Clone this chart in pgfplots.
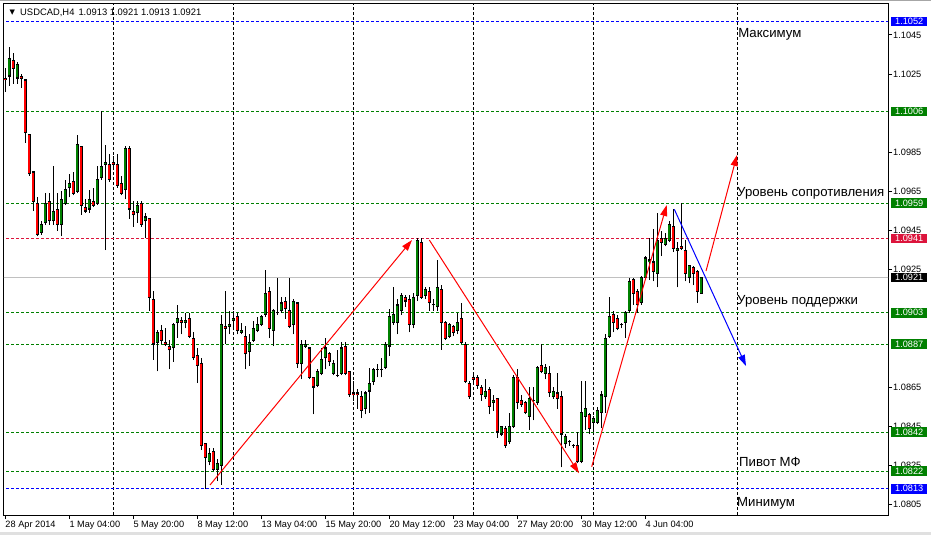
\documentclass[border=0pt]{standalone}
\usepackage{fontspec}
\setmainfont{Liberation Sans}
\newfontfamily\dejavu{DejaVu Sans}
\usepackage{pgfplots}
\usepackage{pgfplotstable}
\pgfplotsset{compat=1.18}
\usetikzlibrary{arrows.meta}

\definecolor{mtgreen}{RGB}{0,128,0}
\definecolor{mtred}{RGB}{255,0,0}
\definecolor{mtcrimson}{RGB}{220,20,60}
\definecolor{mtblue}{RGB}{0,0,255}
\definecolor{mtsilver}{RGB}{192,192,192}

\pgfplotstableread{
i o h l c
0 1.1023 1.1028 1.1016 1.1022
1 1.1024 1.1039 1.1019 1.1033
2 1.1032 1.1036 1.1020 1.1028
3 1.1023 1.1031 1.1020 1.1030
4 1.1024 1.1025 1.1018 1.1023
5 1.1022 1.1022 1.0990 1.0995
6 1.0994 1.0994 1.0973 1.0974
7 1.0975 1.0975 1.0955 1.0960
8 1.0959 1.0962 1.0942 1.0943
9 1.0944 1.0950 1.0943 1.0948
10 1.0949 1.0964 1.0948 1.0959
11 1.0960 1.0964 1.0948 1.0950
12 1.0950 1.0978 1.0948 1.0955
13 1.0956 1.0964 1.0945 1.0948
14 1.0948 1.0965 1.0942 1.0961
15 1.0959 1.0971 1.0958 1.0966
16 1.0967 1.0974 1.0962 1.0969
17 1.0970 1.0975 1.0963 1.0964
18 1.0965 1.0994 1.0964 1.0989
19 1.0988 1.0988 1.0953 1.0958
20 1.0957 1.0961 1.0954 1.0955
21 1.0956 1.0966 1.0954 1.0961
22 1.0960 1.0967 1.0957 1.0958
23 1.0959 1.0978 1.0958 1.0971
24 1.0972 1.1006 1.0971 1.0978
25 1.0979 1.0989 1.0935 1.0980
26 1.0979 1.0984 1.0970 1.0971
27 1.0980 1.0983 1.0976 1.0979
28 1.0979 1.0984 1.0967 1.0968
29 1.0969 1.0973 1.0963 1.0964
30 1.0966 1.0988 1.0961 1.0987
31 1.0987 1.0988 1.0951 1.0956
32 1.0955 1.0960 1.0947 1.0953
33 1.0954 1.0960 1.0949 1.0958
34 1.0959 1.0960 1.0947 1.0948
35 1.0950 1.0954 1.0941 1.0952
36 1.0951 1.0951 1.0904 1.0911
37 1.0910 1.0914 1.0879 1.0887
38 1.0888 1.0894 1.0873 1.0893
39 1.0894 1.0897 1.0887 1.0889
40 1.0888 1.0895 1.0886 1.0887
41 1.0886 1.0889 1.0874 1.0884
42 1.0885 1.0898 1.0878 1.0897
43 1.0898 1.0907 1.0890 1.0900
44 1.0899 1.0901 1.0892 1.0898
45 1.0898 1.0903 1.0895 1.0899
46 1.0900 1.0903 1.0890 1.0891
47 1.0890 1.0893 1.0879 1.0880
48 1.0881 1.0885 1.0867 1.0876
49 1.0877 1.0880 1.0833 1.0835
50 1.0836 1.0836 1.0813 1.0829
51 1.0827 1.0834 1.0825 1.0831
52 1.0832 1.0834 1.0822 1.0823
53 1.0823 1.0828 1.0817 1.0826
54 1.0825 1.0902 1.0815 1.0897
55 1.0896 1.0914 1.0887 1.0895
56 1.0896 1.0904 1.0892 1.0897
57 1.0899 1.0904 1.0894 1.0900
58 1.0901 1.0903 1.0892 1.0894
59 1.0893 1.0898 1.0892 1.0894
60 1.0891 1.0896 1.0874 1.0882
61 1.0883 1.0892 1.0876 1.0888
62 1.0889 1.0899 1.0888 1.0895
63 1.0894 1.0901 1.0893 1.0897
64 1.0897 1.0902 1.0896 1.0901
65 1.0902 1.0925 1.0901 1.0913
66 1.0914 1.0916 1.0890 1.0895
67 1.0894 1.0905 1.0886 1.0904
68 1.0903 1.0921 1.0902 1.0903
69 1.0904 1.0911 1.0903 1.0908
70 1.0909 1.0911 1.0900 1.0905
71 1.0904 1.0921 1.0895 1.0896
72 1.0897 1.0910 1.0892 1.0909
73 1.0908 1.0908 1.0875 1.0877
74 1.0877 1.0889 1.0869 1.0887
75 1.0886 1.0889 1.0885 1.0887
76 1.0885 1.0885 1.0869 1.0870
77 1.0870 1.0870 1.0851 1.0865
78 1.0866 1.0874 1.0865 1.0873
79 1.0872 1.0885 1.0871 1.0879
80 1.0880 1.0890 1.0874 1.0885
81 1.0882 1.0883 1.0876 1.0878
82 1.0872 1.0879 1.0871 1.0877
83 1.0871 1.0884 1.0870 1.0871
84 1.0872 1.0888 1.0871 1.0885
85 1.0886 1.0888 1.0871 1.0872
86 1.0873 1.0873 1.0860 1.0861
87 1.0862 1.0868 1.0858 1.0861
88 1.0862 1.0864 1.0854 1.0861
89 1.0860 1.0863 1.0849 1.0853
90 1.0854 1.0863 1.0851 1.0862
91 1.0863 1.0875 1.0852 1.0867
92 1.0868 1.0875 1.0866 1.0874
93 1.0874 1.0877 1.0870 1.0874
94 1.0874 1.0880 1.0870 1.0874
95 1.0875 1.0888 1.0874 1.0887
96 1.0886 1.0905 1.0881 1.0901
97 1.0898 1.0916 1.0897 1.0902
98 1.0898 1.0910 1.0892 1.0907
99 1.0904 1.0913 1.0902 1.0912
100 1.0911 1.0912 1.0906 1.0909
101 1.0910 1.0912 1.0893 1.0897
102 1.0897 1.0913 1.0895 1.0911
103 1.0912 1.0941 1.0909 1.0940
104 1.0939 1.0941 1.0910 1.0911
105 1.0912 1.0916 1.0910 1.0915
106 1.0914 1.0916 1.0904 1.0908
107 1.0907 1.0910 1.0904 1.0907
108 1.0906 1.0930 1.0904 1.0916
109 1.0915 1.0917 1.0884 1.0898
110 1.0898 1.0899 1.0889 1.0890
111 1.0891 1.0898 1.0890 1.0897
112 1.0896 1.0897 1.0891 1.0893
113 1.0894 1.0903 1.0892 1.0898
114 1.0900 1.0908 1.0887 1.0888
115 1.0887 1.0888 1.0867 1.0868
116 1.0867 1.0868 1.0859 1.0860
117 1.0870 1.0872 1.0866 1.0869
118 1.0870 1.0871 1.0864 1.0866
119 1.0865 1.0866 1.0858 1.0861
120 1.0860 1.0869 1.0859 1.0863
121 1.0864 1.0865 1.0851 1.0855
122 1.0857 1.0861 1.0853 1.0858
123 1.0859 1.0859 1.0839 1.0842
124 1.0841 1.0845 1.0840 1.0845
125 1.0844 1.0845 1.0834 1.0835
126 1.0837 1.0852 1.0836 1.0845
127 1.0845 1.0871 1.0844 1.0870
128 1.0870 1.0874 1.0854 1.0857
129 1.0858 1.0861 1.0855 1.0856
130 1.0857 1.0858 1.0851 1.0852
131 1.0850 1.0865 1.0843 1.0859
132 1.0858 1.0865 1.0848 1.0858
133 1.0857 1.0876 1.0856 1.0875
134 1.0876 1.0887 1.0872 1.0873
135 1.0872 1.0877 1.0869 1.0875
136 1.0872 1.0876 1.0860 1.0862
137 1.0860 1.0865 1.0859 1.0863
138 1.0862 1.0872 1.0854 1.0859
139 1.0860 1.0863 1.0824 1.0841
140 1.0836 1.0841 1.0834 1.0840
141 1.0837 1.0838 1.0835 1.0837
142 1.0835 1.0836 1.0834 1.0835
143 1.0835 1.0842 1.0826 1.0827
144 1.0827 1.0868 1.0826 1.0852
145 1.0850 1.0868 1.0843 1.0854
146 1.0851 1.0852 1.0841 1.0844
147 1.0847 1.0850 1.0842 1.0849
148 1.0847 1.0855 1.0846 1.0853
149 1.0852 1.0863 1.0844 1.0861
150 1.0860 1.0892 1.0852 1.0890
151 1.0891 1.0911 1.0890 1.0901
152 1.0902 1.0904 1.0893 1.0898
153 1.0900 1.0902 1.0894 1.0895
154 1.0897 1.0898 1.0895 1.0897
155 1.0898 1.0904 1.0890 1.0903
156 1.0904 1.0921 1.0903 1.0919
157 1.0920 1.0921 1.0907 1.0913
158 1.0914 1.0915 1.0903 1.0907
159 1.0908 1.0922 1.0907 1.0921
160 1.0921 1.0932 1.0920 1.0931
161 1.0929 1.0941 1.0920 1.0930
162 1.0929 1.0946 1.0919 1.0924
163 1.0923 1.0954 1.0916 1.0940
164 1.0941 1.0945 1.0932 1.0939
165 1.0938 1.0944 1.0937 1.0941
166 1.0940 1.0950 1.0939 1.0948
167 1.0947 1.0956 1.0934 1.0936
168 1.0935 1.0939 1.0916 1.0936
169 1.0937 1.0959 1.0935 1.0936
170 1.0935 1.0940 1.0919 1.0923
171 1.0921 1.0927 1.0918 1.0927
172 1.0926 1.0927 1.0917 1.0923
173 1.0924 1.0925 1.0908 1.0914
174 1.0913 1.0921 1.0913 1.0921
}\candles

\tikzset{lvl/.style={anchor=west, minimum width=36pt, minimum height=9.5pt, inner sep=0pt, text=white, font=\fontsize{9.2}{10}\selectfont}}

\begin{document}
\begin{tikzpicture}[x=1pt,y=1pt]
\path[use as bounding box] (0,0) rectangle (931,535);
\fill[black!12] (0,0) rectangle (931,3);
\fill[black!35] (0,533.6) rectangle (931,535);
\begin{axis}[
  at={(4pt,20pt)}, anchor=south west,
  scale only axis, width=884pt, height=511pt,
  xmin=-0.325, xmax=220.675,
  ymin=1.079962, ymax=1.106084,
  axis line style={black, line width=1pt},
  tick align=outside,
  major tick length=4pt,
  tick style={black, line width=1pt},
  xtick={0,16,32,48,64,80,96,112,128,144,160},
  xticklabels={28 Apr 2014,1 May 04:00,5 May 20:00,8 May 12:00,13 May 04:00,15 May 20:00,20 May 12:00,23 May 04:00,27 May 20:00,30 May 12:00,4 Jun 04:00},
  xtick pos=bottom,
  x tick label style={anchor=north west, font=\fontsize{9.2}{11}\selectfont, inner xsep=0pt, inner ysep=1.5pt},
  ytick={1.0805,1.0825,1.0845,1.0865,1.0925,1.0945,1.0965,1.0985,1.1025,1.1045},
  ytick pos=right, yticklabel pos=right,
  scaled y ticks=false,
  y tick label style={anchor=west, font=\fontsize{9.2}{11}\selectfont, inner xsep=1pt,
    /pgf/number format/.cd, fixed, fixed zerofill, precision=4, assume math mode=true},
  extra x ticks={27,57,87,117,147,183.05},
  extra x tick labels={},
  extra x tick style={grid=major, major tick length=0pt,
    major grid style={black, line width=1pt, dash pattern=on 3pt off 2pt}},
]
% level lines
\addplot[mtblue, line width=1pt, dash pattern=on 3pt off 2pt] coordinates {(-1,1.1052) (222,1.1052)};
\addplot[mtgreen, line width=1pt, dash pattern=on 3pt off 2pt] coordinates {(-1,1.1006) (222,1.1006)};
\addplot[mtgreen, line width=1pt, dash pattern=on 3pt off 2pt] coordinates {(-1,1.0959) (222,1.0959)};
\addplot[mtcrimson, line width=1pt, dash pattern=on 3pt off 2pt] coordinates {(-1,1.0941) (222,1.0941)};
\addplot[mtsilver, line width=1pt] coordinates {(-1,1.0921) (222,1.0921)};
\addplot[mtgreen, line width=1pt, dash pattern=on 3pt off 2pt] coordinates {(-1,1.0903) (222,1.0903)};
\addplot[mtgreen, line width=1pt, dash pattern=on 3pt off 2pt] coordinates {(-1,1.0887) (222,1.0887)};
\addplot[mtgreen, line width=1pt, dash pattern=on 3pt off 2pt] coordinates {(-1,1.0842) (222,1.0842)};
\addplot[mtgreen, line width=1pt, dash pattern=on 3pt off 2pt] coordinates {(-1,1.0822) (222,1.0822)};
\addplot[mtblue, line width=1pt, dash pattern=on 3pt off 2pt] coordinates {(-1,1.0813) (222,1.0813)};
% wicks
\addplot[draw=none, mark=none,
  error bars/.cd, y dir=plus, y explicit, error mark=none, error bar style={draw=black, solid, line width=1pt}]
  table[x=i, y=l, y error plus expr={\thisrow{h}-\thisrow{l}}] {\candles};
% body outlines
\addplot[draw=none, mark=none,
  error bars/.cd, y dir=plus, y explicit, error mark=none, error bar style={draw=black, solid, line width=3.4pt}]
  table[x=i, y expr={min(\thisrow{o},\thisrow{c})-0.0000256}, y error plus expr={abs(\thisrow{c}-\thisrow{o})+0.0000512}] {\candles};
% bull fill
\addplot[draw=none, mark=none,
  error bars/.cd, y dir=plus, y explicit, error mark=none, error bar style={draw=mtgreen, solid, line width=1.7pt}]
  table[x=i, y expr={\thisrow{o}+0.000031}, y error plus expr={max(\thisrow{c}-\thisrow{o}-0.000062,0)}] {\candles};
% bear fill
\addplot[draw=none, mark=none,
  error bars/.cd, y dir=plus, y explicit, error mark=none, error bar style={draw=mtred, solid, line width=1.7pt}]
  table[x=i, y expr={\thisrow{c}+0.000031}, y error plus expr={max(\thisrow{o}-\thisrow{c}-0.000062,0)}] {\candles};
% trend arrows
\addplot[mtred, line width=1pt, -{Triangle[length=11pt,width=7pt]}] coordinates {(51.18,1.081496) (101.68,1.09402)};
\addplot[mtred, line width=1pt, -{Triangle[length=11pt,width=7pt]}] coordinates {(106.0,1.09402) (143.43,1.082094)};
\addplot[mtred, line width=1pt, -{Triangle[length=11pt,width=7pt]}] coordinates {(146.6,1.082431) (165.35,1.095809)};
\addplot[mtblue, line width=1pt, -{Triangle[length=11pt,width=7pt]}] coordinates {(167.25,1.095589) (185.18,1.087579)};
\addplot[mtred, line width=1pt, -{Triangle[length=11pt,width=7pt]}] coordinates {(175.18,1.092435) (182.93,1.098365)};
% texts
\node[anchor=base west, inner sep=0pt, font=\fontsize{13.2}{15}\selectfont] at (axis cs:183.2,1.10438) {Максимум};
\node[anchor=base west, inner sep=0pt, font=\fontsize{13.2}{15}\selectfont] at (axis cs:182.93,1.096233) {Уровень сопротивления};
\node[anchor=base west, inner sep=0pt, font=\fontsize{13.2}{15}\selectfont] at (axis cs:182.93,1.090712) {Уровень поддержки};
\node[anchor=base west, inner sep=0pt, font=\fontsize{13.2}{15}\selectfont] at (axis cs:183.43,1.082431) {Пивот МФ};
\node[anchor=base west, inner sep=0pt, font=\fontsize{13.2}{15}\selectfont] at (axis cs:182.93,1.080386) {Минимум};
\node[anchor=west, inner sep=0pt, font=\fontsize{9.4}{11}\selectfont] at (rel axis cs:0.0181,0.983) {USDCAD,H4\hspace{4pt}1.0913 1.0921 1.0913 1.0921};
\node[inner sep=0pt, font=\dejavu\fontsize{7}{8}\selectfont] at (rel axis cs:0.0093,0.983) {▼};
\coordinate (r1) at (axis cs:220.675,1.1052);
\coordinate (r2) at (axis cs:220.675,1.1006);
\coordinate (r3) at (axis cs:220.675,1.0959);
\coordinate (r4) at (axis cs:220.675,1.0941);
\coordinate (r5) at (axis cs:220.675,1.0921);
\coordinate (r6) at (axis cs:220.675,1.0903);
\coordinate (r7) at (axis cs:220.675,1.0887);
\coordinate (r8) at (axis cs:220.675,1.0842);
\coordinate (r9) at (axis cs:220.675,1.0822);
\coordinate (r10) at (axis cs:220.675,1.0813);
\end{axis}
\node[lvl, fill=mtblue] at ([xshift=3pt]r1) {1.1052};
\node[lvl, fill=mtgreen] at ([xshift=3pt]r2) {1.1006};
\node[lvl, fill=mtgreen] at ([xshift=3pt]r3) {1.0959};
\node[lvl, fill=mtcrimson] at ([xshift=3pt]r4) {1.0941};
\node[lvl, fill=black] at ([xshift=3pt]r5) {1.0921};
\node[lvl, fill=mtgreen] at ([xshift=3pt]r6) {1.0903};
\node[lvl, fill=mtgreen] at ([xshift=3pt]r7) {1.0887};
\node[lvl, fill=mtgreen] at ([xshift=3pt]r8) {1.0842};
\node[lvl, fill=mtgreen] at ([xshift=3pt]r9) {1.0822};
\node[lvl, fill=mtblue] at ([xshift=3pt]r10) {1.0813};
\end{tikzpicture}
\end{document}
